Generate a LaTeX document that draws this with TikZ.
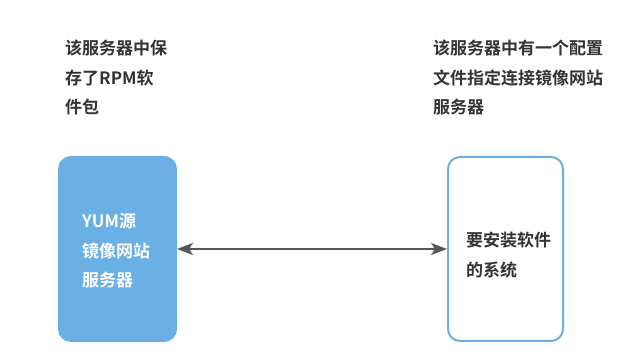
\documentclass[tikz,border=0pt]{standalone}
\usepackage{fontspec}
\setmainfont{Noto Sans CJK SC}[BoldFont={Noto Sans CJK SC Bold}]
\usetikzlibrary{arrows.meta}
\definecolor{boxblue}{RGB}{106,176,228}
\definecolor{txtgray}{RGB}{51,51,51}
\definecolor{arrgray}{RGB}{85,85,85}
\tikzset{
  lbl/.style={inner sep=0pt, align=left, anchor=west, text=txtgray, font=\fontsize{17}{29.5}\selectfont\bfseries},
  box/.style={rounded corners=12pt, line width=2pt},
  link/.style={draw=arrgray, line width=2pt, arrows={Stealth[length=16pt,width=12pt,inset=4pt]-Stealth[length=16pt,width=12pt,inset=4pt]}},
}
\begin{document}
\begin{tikzpicture}[x=1pt,y=1pt]
\useasboundingbox (0,0) rectangle (643,-363);
\draw[box, draw=boxblue, fill=boxblue] (59,-157) rectangle (176,-341);
\draw[box, draw=boxblue, fill=white] (448,-157) rectangle (563,-341);
\coordinate (L) at (177,-249);
\coordinate (R) at (447,-249);
\node[lbl] (t1) at (65,-77.5) {该服务器中保\\存了RPM软\\件包};
\node[lbl] (t2) at (433,-77.5) {该服务器中有一个配置\\文件指定连接镜像网站\\服务器};
\node[lbl, text=white] (b1) at (82,-251) {YUM源\\镜像网站\\服务器};
\node[lbl] (b2) at (466,-255) {要安装软件\\的系统};
\draw[link] (L) -- (R);
\end{tikzpicture}
\end{document}
